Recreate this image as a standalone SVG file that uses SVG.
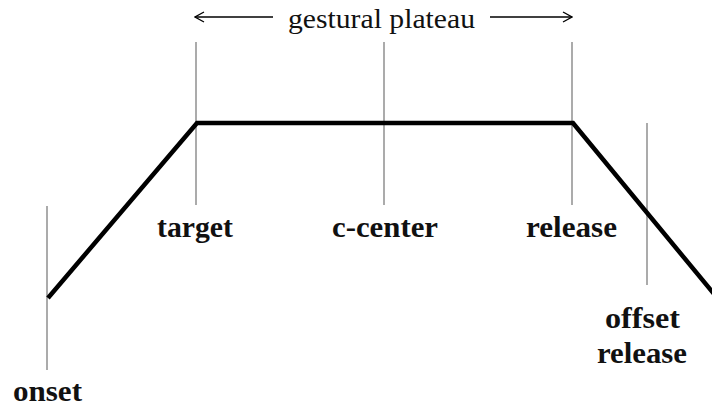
<svg xmlns="http://www.w3.org/2000/svg" width="712" height="406" viewBox="0 0 712 406">
<defs>
<marker id="chev" viewBox="0 0 12 12" refX="11" refY="6" markerWidth="12" markerHeight="12" markerUnits="userSpaceOnUse" orient="auto-start-reverse">
<path d="M2,1 L11,6 L2,11" fill="none" stroke="#000" stroke-width="1.3"/>
</marker>
<style>
.tick{stroke:#666;stroke-width:1.1;fill:none}
.curve{stroke:#000;stroke-width:4.5;fill:none;stroke-linejoin:miter}
.arr{stroke:#000;stroke-width:1.3;fill:none}
.lbl{font-family:"Liberation Serif","Times New Roman",serif;font-weight:bold;font-size:30px;fill:#111;text-anchor:middle}
.ttl{font-family:"Liberation Serif","Times New Roman",serif;font-size:27px;fill:#111}
</style>
</defs>
<rect width="712" height="406" fill="#fff"/>
<g id="connectors">
<line class="tick" x1="47" y1="206" x2="47" y2="370"/>
<line class="tick" x1="196" y1="42" x2="196" y2="205"/>
<line class="tick" x1="384" y1="42" x2="384" y2="205"/>
<line class="tick" x1="572" y1="42" x2="572" y2="205"/>
<line class="tick" x1="647" y1="123" x2="647" y2="285"/>
<path class="curve" d="M48,298 L197,123 L573,123 L714,294"/>
<line class="arr" x1="273" y1="17" x2="195" y2="17" marker-end="url(#chev)"/>
<line class="arr" x1="490" y1="17" x2="572" y2="17" marker-end="url(#chev)"/>
</g>
<g id="title"><text class="ttl" x="288" y="28" textLength="187" lengthAdjust="spacingAndGlyphs">gestural plateau</text></g>
<g id="onset"><text class="lbl" x="47.5" y="401" textLength="69" lengthAdjust="spacingAndGlyphs">onset</text></g>
<g id="target"><text class="lbl" x="195" y="237" textLength="76" lengthAdjust="spacingAndGlyphs">target</text></g>
<g id="c-center"><text class="lbl" x="385" y="237" textLength="106" lengthAdjust="spacingAndGlyphs">c-center</text></g>
<g id="release"><text class="lbl" x="571.5" y="237" textLength="91" lengthAdjust="spacingAndGlyphs">release</text></g>
<g id="offset-release">
<text class="lbl" x="642.5" y="328" textLength="75" lengthAdjust="spacingAndGlyphs">offset</text>
<text class="lbl" x="642" y="363" textLength="90" lengthAdjust="spacingAndGlyphs">release</text>
</g>
</svg>
